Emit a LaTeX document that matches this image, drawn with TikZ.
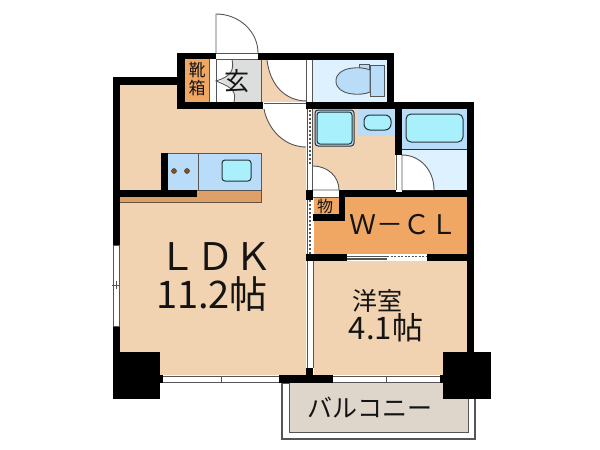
\documentclass[tikz,border=0pt]{standalone}
\usepackage{fontspec}
\setmainfont{Noto Sans CJK JP}
\definecolor{tan}{HTML}{F1D2B1}
\definecolor{orng}{HTML}{EFA763}
\definecolor{lblue}{HTML}{DDF1FE}
\definecolor{mblue}{HTML}{B9DCF8}
\definecolor{aqua}{HTML}{A9F0FD}
\definecolor{grey1}{HTML}{DCDEDD}
\definecolor{balc}{HTML}{DED6CB}
\definecolor{brn}{HTML}{DDA066}
\definecolor{dot}{HTML}{8A5218}
\definecolor{ln}{HTML}{555555}
\definecolor{dk}{HTML}{263238}
\tikzset{
 wall/.style={fill=black,draw=none},
 thin line/.style={draw=ln,line width=0.9pt},
 fixture/.style={draw=dk,line width=1pt,fill=aqua,rounded corners=3pt},
 label/.style={inner sep=0pt,text=black!92},
 stripw/.style={fill=white,draw=ln,line width=1.1pt}
}
\begin{document}
\begin{tikzpicture}[x=1pt,y=-1pt]
\useasboundingbox (0,0) rectangle (600,450);
% floors
\fill[tan] (120,85) -- (177,85) -- (177,109) -- (306,109) -- (306,375) -- (120,375) -- cycle;
\fill[tan] (262,59) rectangle (307,102);
\fill[orng] (185,59) rectangle (209,102);
\fill[white] (209,59) rectangle (216,102);
\fill[grey1] (232,59) -- (261,59) -- (261,102) -- (234,102) .. controls (236,92) and (234,88) .. (220,81) .. controls (232,76) and (234,70) .. (232,59);
\fill[lblue] (313,60) rectangle (387,102);
\fill[tan] (313,109) rectangle (395,190);
\fill[mblue] (358,109) rectangle (395,136);
\fill[lblue] (402,149) rectangle (467,190);
\fill[mblue] (402,109) rectangle (467,149);
\fill[orng] (314,197) rectangle (467,254);
\fill[tan] (314,261) rectangle (467,375);
% balcony
\draw[stripw] (282,383) rectangle (475,439);
\fill[balc] (289,383) rectangle (468,432);
\draw[thin line] (289,383) -- (289,432) -- (468,432) -- (468,383);
% entry door
\fill[white] (216,53) rectangle (258,59);
\draw[thin line] (216,53) -- (216,14) arc[start angle=90,end angle=0,x radius=42,y radius=-39];
\draw[thin line] (216,53) -- (258,53) (216,59) -- (261,59) (216,59) -- (216,102);
\draw[thin line] (234,102) .. controls (236,92) and (234,88) .. (216,81) .. controls (232,76) and (234,70) .. (232,59);
\draw[thin line] (209,59) -- (209,102);
\draw[thin line] (261,59) -- (261,102);
% hall door
\fill[white] (267,60) .. controls (270,85) and (285,101) .. (307,101) -- (307,60) -- cycle;
\draw[thin line] (267,60) .. controls (270,85) and (285,101) .. (307,101);
% hall strip to toilet
\fill[white] (306,59) rectangle (313,102);
\draw[thin line] (306,59) -- (306,102) (312,59) -- (312,102);
% LDK door
\fill[white] (264,103) rectangle (306,109);
\draw[thin line] (264,103) -- (306,103) (264,109) -- (306,109);
\fill[white] (264,109) .. controls (268,130) and (285,147) .. (306,147) -- (306,109) -- cycle;
\draw[thin line] (264,109) .. controls (268,130) and (285,147) .. (306,147);
% partition strips
\fill[white] (307,109) rectangle (313,190);
\draw[thin line] (307,109) -- (307,190) (312.5,109) -- (312.5,190);
\draw[ln,line width=1.2pt,dash pattern=on 2pt off 2pt] (310,110) -- (310,165);
\fill[white] (307,261) rectangle (313,368);
\draw[thin line] (307,261) -- (307,368) (313,261) -- (313,368);
\fill[white] (307,200) rectangle (313,258);
\draw[thin line] (307,200) -- (307,258);
\draw[ln,line width=1.2pt,dash pattern=on 2pt off 2pt] (310,200) -- (310,258);
% walls
\path[wall] (113,77) rectangle (185,85);
\path[wall] (177,53) rectangle (185,109);
\path[wall] (177,53) rectangle (216,59);
\path[wall] (258,53) rectangle (394,60);
\path[wall] (177,102) rectangle (263,109);
\path[wall] (113,77) rectangle (120,352);
\path[wall] (306,102) rectangle (474,109);
\path[wall] (387,53) rectangle (394,109);
\path[wall] (467,102) rectangle (474,352);
\path[wall] (395,109) rectangle (402,155);
\path[wall] (340,190) rectangle (474,197);
\path[wall] (306,190) rectangle (313,200);
\path[wall] (339,190) rectangle (345,221);
\path[wall] (313,214) rectangle (345,221);
\path[wall] (306,254) rectangle (347,261);
\path[wall] (427,254) rectangle (474,261);
\path[wall] (113,352) rectangle (160,399);
\path[wall] (443,352) rectangle (491,399);
\path[wall] (279,375) rectangle (333,383);
\path[wall] (306,368) rectangle (313,375);
\path[wall] (160,375) rectangle (163,383);
\path[wall] (440,375) rectangle (443,383);
% left window
\fill[white] (113,245) rectangle (120,326);
\draw[thin line] (113.5,245) rectangle (119.5,326) (112,285) -- (120,285) (116,281) -- (116,289);
% toilet
\draw[thin line,fill=mblue] (370,65) rectangle (384,96);
\draw[thin line,fill=mblue] (359,64) rectangle (369,69);
\draw[thin line,fill=mblue] (370,70) .. controls (362,66) and (336,66) .. (336,81) .. controls (336,96) and (362,96) .. (370,92) -- cycle;
% wash bath etc
\draw[fixture,fill=mblue] (315,110) rectangle (354,146);
\draw[fixture] (317,112) rectangle (352,144);
\path[draw=dk,line width=1pt,fill=aqua,rounded corners=6pt] (364,115) rectangle (391,130);
\draw[thin line,draw=dk] (402,149) -- (467,149);
\path[draw=dk,line width=1pt,fill=aqua,rounded corners=5pt] (406,114) rectangle (463,142);
% bath door
\fill[white] (396,155) rectangle (402,192);
\draw[thin line] (396,155) -- (396,190);
\fill[white] (402,155) .. controls (420,155) and (434,170) .. (434,190) -- (402,190) -- cycle;
\draw[thin line] (402,155) .. controls (420,155) and (434,170) .. (434,190) (402,155) -- (402,190);
% wash door
\fill[white] (313,190) rectangle (339,197);
\draw[thin line] (313,197) -- (339,197);
\fill[white] (313,166) .. controls (327,166) and (339,176) .. (339,190) -- (313,190) -- cycle;
\draw[thin line] (313,166) .. controls (327,166) and (339,176) .. (339,190) -- (313,190);
% WCL door
\fill[white] (347,255) rectangle (427,260);
\draw[ln,line width=1.5pt] (347,259) -- (387,259);
\draw[ln,line width=1pt] (347,256) -- (387,256);
\draw[ln,line width=1pt,dash pattern=on 2pt off 1.5pt] (387,256) -- (427,256);
% bottom windows
\fill[white] (163,376) rectangle (279,383);
\draw[thin line] (163,376) -- (279,376) (163,382.5) -- (279,382.5) (221,376) -- (221,383);
\fill[white] (333,376) rectangle (440,383);
\draw[thin line] (333,376) -- (440,376) (333,382.5) -- (440,382.5) (386,376) -- (386,383);
% kitchen
\fill[brn] (197,190) rectangle (261,197);
\fill[mblue] (168,154) rectangle (261,190);
\fill[brn] (120,197) rectangle (261,202);
\draw[draw=ln!70!dot,line width=1pt] (120,202) -- (261,202) -- (261,153) -- (168,153);
\draw[thin line] (198,154) -- (198,190) (168,190) -- (261,190);
\path[wall] (161,153) rectangle (168,197);
\path[wall] (120,190) rectangle (197,197);
\draw[fixture] (222,160) rectangle (251,181);
\node[circle,fill=dot,draw=dk,line width=0.4pt,minimum size=5pt,inner sep=0pt] (d1) at (174,171) {};
\node[circle,fill=dot,draw=dk,line width=0.4pt,minimum size=5pt,inner sep=0pt] (d2) at (187,171) {};
% text
\node[label,font=\fontsize{17}{17}\selectfont] (t1) at (197,70) {靴};
\node[label,font=\fontsize{17}{17}\selectfont] (t2) at (197,88) {箱};
\node[label,font=\fontsize{25}{25}\selectfont] (t3) at (237,81) {玄};
\node[label,font=\fontsize{16}{16}\selectfont] (t4) at (325,206) {物};
\node[label,font=\fontsize{27}{27}\selectfont] (t5) at (403,225) {Ｗ－ＣＬ};
\node[label,font=\fontsize{38}{38}\selectfont] (t6) at (215,257) {ＬＤＫ};
\node[label,font=\fontsize{38}{38}\selectfont] (t7) at (212,294) {11.2帖};
\node[label,font=\fontsize{25}{25}\selectfont] (t8) at (377,301) {洋室};
\node[label,font=\fontsize{31}{31}\selectfont] (t9) at (386,328) {4.1帖};
\node[label,font=\fontsize{25}{25}\selectfont] (t10) at (370,408) {バルコニー};
\end{tikzpicture}
\end{document}
